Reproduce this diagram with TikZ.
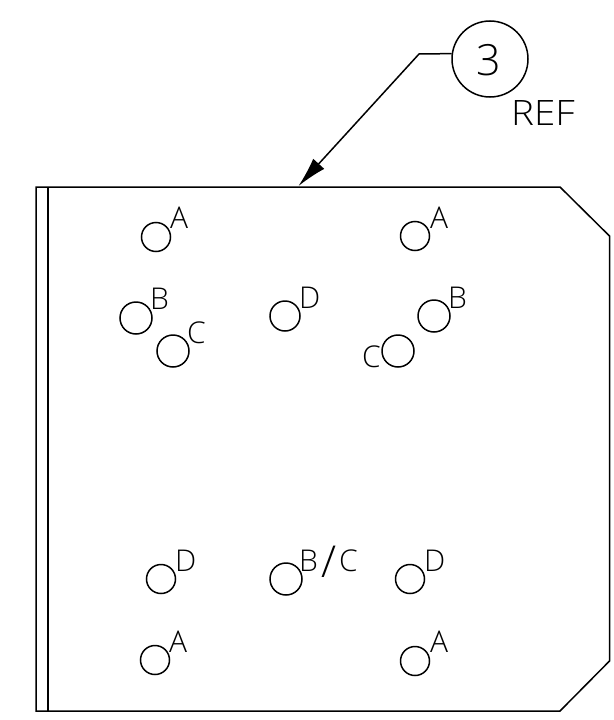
\documentclass[tikz,border=0pt]{standalone}
\usepackage{fontspec}
\setmainfont{Open Sans Light}
\usetikzlibrary{arrows.meta}
\tikzset{
  ln/.style={line width=1.5pt,black},
  hole/.style={circle,draw,ln,inner sep=0pt,minimum size=#1},
  lbl/.style={anchor=base west,inner sep=0pt,font=\fontsize{30}{30}\selectfont},
}
\begin{document}
\begin{tikzpicture}[x=1pt,y=-1pt]
\useasboundingbox (0,0) rectangle (613,720);
\coordinate (p1) at (36,187);
\coordinate (p2) at (560,187);
\coordinate (p3) at (609.5,236);
\coordinate (p4) at (609.5,661);
\coordinate (p5) at (560,711);
\coordinate (p6) at (36,711);
\coordinate (i1) at (48,187);
\coordinate (i2) at (48,711);
\draw[ln,line join=miter] (p1)--(p2)--(p3)--(p4)--(p5)--(p6)--cycle;
\draw[ln] (i1)--(i2);
% balloon
\node[hole=76pt,font=\fontsize{43}{43}\selectfont] (balloon) at (490,59) {};
\node[inner sep=0pt,anchor=base,font=\fontsize{43}{43}\selectfont] (num) at (489,75) {3};
\coordinate (elbow) at (419,54);
\coordinate (tip) at (298.5,186);
\draw[ln,-{Latex[length=30pt,width=15pt]}] (balloon.172)--(elbow)--(tip);
\node[lbl,font=\fontsize{35}{35}\selectfont,xscale=1.1] (ref) at (511,125) {REF};
% holes
\node[hole=29pt] (h1) at (156,237) {};
\node[hole=32pt] (h2) at (136,318) {};
\node[hole=32pt] (h3) at (173,351) {};
\node[hole=30pt] (h4) at (285,316) {};
\node[hole=29pt] (h5) at (415,236) {};
\node[hole=32pt] (h6) at (434,316) {};
\node[hole=32pt] (h7) at (398,351) {};
\node[hole=29pt] (h8) at (161,579) {};
\node[hole=32pt] (h9) at (286,579) {};
\node[hole=29pt] (h10) at (410,579) {};
\node[hole=29pt] (h11) at (155,660) {};
\node[hole=29pt] (h12) at (415,661) {};
% labels
\node[lbl] (t1) at (170,228) {A};
\node[lbl] (t2) at (150,309) {B};
\node[lbl] (t3) at (187,343) {C};
\node[lbl] (t4) at (299,308) {D};
\node[lbl] (t5) at (430,228) {A};
\node[lbl] (t6) at (448,308) {B};
\node[lbl] (t7) at (362,367) {C};
\node[lbl] (t8) at (175,571) {D};
\node[lbl] (t9) at (299,571) {B\kern3pt\raisebox{-6pt}{\fontsize{44}{44}\selectfont /}\kern3pt C};
\node[lbl] (t10) at (424,571) {D};
\node[lbl] (t11) at (169,652) {A};
\node[lbl] (t12) at (430,652) {A};
\end{tikzpicture}
\end{document}
